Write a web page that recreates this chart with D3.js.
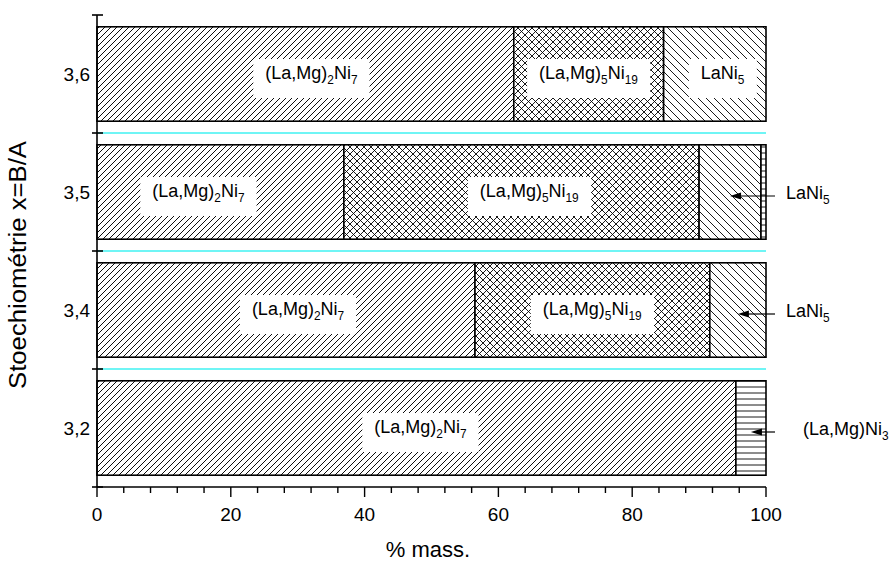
<!DOCTYPE html>
<html>
<head>
<meta charset="utf-8">
<script src="https://cdn.jsdelivr.net/npm/d3@7/dist/d3.min.js"></script>
<style>
  html, body { margin: 0; padding: 0; background: #fff; }
  svg { display: block; font-family: Arial, "Liberation Sans", sans-serif; }
</style>
</head>
<body>
<svg id="chart" width="893" height="562"></svg>
<script>
// ---------- data ----------
const categories = ["3,2", "3,4", "3,5", "3,6"];           // stoichiometry x = B/A (bottom to top)
const phaseNames = ["(La,Mg)2Ni7", "(La,Mg)5Ni19", "LaNi5", "(La,Mg)Ni3"];
const phaseNi7  = [95.5, 56.5, 36.9, 62.3];                 // % mass (La,Mg)2Ni7
const phaseNi19 = [0.0, 35.1, 53.1, 22.4];                  // % mass (La,Mg)5Ni19
const phaseNi5  = [0.0, 8.4, 9.25, 15.3];                   // % mass LaNi5
const phaseNi3  = [4.5, 0.0, 0.75, 0.0];                    // % mass (La,Mg)Ni3
const xTickValues = [0, 20, 40, 60, 80, 100];
const xTitle = "% mass.";
const yTitle = "Stoechiométrie x=B/A";

// ---------- layout ----------
const svg = d3.select("#chart");
const x = d3.scaleLinear().domain([0, 100]).range([97, 766]);
const y = d3.scaleBand().domain(categories.slice().reverse()).range([15, 487])
  .paddingInner(0.2).paddingOuter(0.1);
const step = y.step();

// patterns
const defs = svg.append("defs");
function pat(id, size, d, sw) {
  const p = defs.append("pattern").attr("id", id).attr("patternUnits", "userSpaceOnUse")
    .attr("width", size).attr("height", size);
  p.append("rect").attr("width", size).attr("height", size).attr("fill", "#fff");
  p.append("path").attr("d", d).attr("stroke", "#000").attr("stroke-width", sw).attr("fill", "none");
}
pat("p0", 6, "M-1,1 L1,-1 M0,6 L6,0 M5,7 L7,5", 0.95);
pat("p1", 7, "M-1,1 L1,-1 M0,7 L7,0 M6,8 L8,6 M-1,6 L1,8 M0,0 L7,7 M6,-1 L8,1", 0.9);
pat("p2", 8, "M-1,7 L1,9 M0,0 L8,8 M7,-1 L9,1", 0.9);
pat("p3", 6, "M0,3 L6,3", 0.9);

const series = [phaseNi7, phaseNi19, phaseNi5, phaseNi3];
const rows = categories.map((c, i) => {
  const o = { cat: c };
  phaseNames.forEach((p, j) => o[p] = series[j][i]);
  return o;
});
const stacked = d3.stack().keys(phaseNames)(rows);

// cyan separators at band boundaries
const boundaries = categories.slice(1).map(c => y(c) + y.bandwidth() + (step - y.bandwidth()) / 2);
svg.append("g").selectAll("line").data(boundaries).join("line")
  .attr("x1", x(0)).attr("x2", x(100)).attr("y1", d => d).attr("y2", d => d)
  .attr("stroke", "#6ff5f5").attr("stroke-width", 2);

// bars
const gBars = svg.append("g");
stacked.forEach((s, j) => {
  gBars.append("g").selectAll("rect").data(s.filter(d => d[1] - d[0] > 0)).join("rect")
    .attr("x", d => x(d[0])).attr("width", d => x(d[1]) - x(d[0]))
    .attr("y", d => y(d.data.cat)).attr("height", y.bandwidth())
    .attr("fill", `url(#p${j})`).attr("stroke", "#000").attr("stroke-width", 1.6);
});

// label helper with subscripts
function richText(g, name, fs) {
  const t = g.append("text").attr("font-size", fs).attr("fill", "#000");
  const parts = name.match(/[^0-9]+|[0-9]+/g);
  parts.forEach((p, k) => {
    const isNum = /^[0-9]+$/.test(p);
    const ts = t.append("tspan").text(p);
    if (isNum) {
      ts.attr("font-size", fs * 0.66).attr("dy", fs * 0.3);
    } else if (k > 0) {
      ts.attr("dy", -fs * 0.3);
    }
  });
  return t;
}

// inside label offsets (style)
const insideDx = { "3,5|0": -22, "3,4|0": 12, "3,6|0": 6, "3,6|2": 8, "3,5|1": 8, "3,2|0": 4 };
const outsideTextX = { 2: 786, 3: 803 };
const fsLabel = 18;

stacked.forEach((s, j) => {
  s.forEach(d => {
    const w = d[1] - d[0];
    const cy = y(d.data.cat) + y.bandwidth() / 2;
    if (w > 10) {
      const cx = x((d[0] + d[1]) / 2) + (insideDx[d.data.cat + "|" + j] || 0);
      const g = gBars.append("g");
      const t = richText(g, phaseNames[j], fsLabel).attr("x", 0).attr("y", 0);
      const bb = t.node().getBBox();
      g.insert("rect", "text").attr("x", bb.x - 12).attr("y", -20).attr("width", bb.width + 24).attr("height", 39).attr("fill", "#fff");
      g.attr("transform", `translate(${cx - bb.width / 2 - bb.x},${cy + 5})`);
    } else if (w >= 2) {
      const ay = cy + 4;
      const tipX = x((d[0] + d[1]) / 2);
      const startX = x(100) + 9;
      svg.append("line").attr("x1", startX).attr("x2", tipX + 8).attr("y1", ay).attr("y2", ay)
        .attr("stroke", "#000").attr("stroke-width", 1.2);
      svg.append("path").attr("d", `M${tipX},${ay} L${tipX + 11},${ay - 3.5} L${tipX + 11},${ay + 3.5} Z`).attr("fill", "#000");
      richText(svg, phaseNames[j], fsLabel).attr("x", outsideTextX[j]).attr("y", ay + 3);
    }
  });
});

// x axis
const gx = svg.append("g").attr("stroke", "#000");
gx.append("line").attr("x1", x(0)).attr("x2", x(100)).attr("y1", 487).attr("y2", 487).attr("stroke-width", 1.6);
const minor = d3.range(0, 100.01, 4);
gx.selectAll("line.mn").data(minor).join("line").attr("class", "mn")
  .attr("x1", d => x(d)).attr("x2", d => x(d)).attr("y1", 487)
  .attr("y2", d => xTickValues.includes(d) ? 497 : 493).attr("stroke-width", 1.4);
svg.append("g").selectAll("text").data(xTickValues).join("text")
  .attr("x", d => x(d)).attr("y", 521).attr("text-anchor", "middle")
  .attr("font-size", 19).text(d => d);
svg.append("text").attr("x", 428).attr("y", 557).attr("text-anchor", "middle")
  .attr("font-size", 22).text(xTitle);

// y axis
const gy = svg.append("g").attr("stroke", "#000");
gy.append("line").attr("x1", x(0)).attr("x2", x(0)).attr("y1", 15).attr("y2", 487).attr("stroke-width", 1.6);
const yTicks = [15].concat(boundaries, [487]);
gy.selectAll("line.t").data(yTicks).join("line").attr("class", "t")
  .attr("x1", x(0) - 5).attr("x2", x(0) + 6).attr("y1", d => d).attr("y2", d => d).attr("stroke-width", 1.6);
svg.append("g").selectAll("text").data(categories).join("text")
  .attr("x", 90).attr("y", d => y(d) + y.bandwidth() / 2 + 7).attr("text-anchor", "end")
  .attr("font-size", 19).text(d => d);
svg.append("text").attr("transform", "translate(26,265) rotate(-90)").attr("text-anchor", "middle")
  .attr("font-size", 23).attr("textLength", 248).attr("lengthAdjust", "spacingAndGlyphs").text(yTitle);
</script>
</body>
</html>
